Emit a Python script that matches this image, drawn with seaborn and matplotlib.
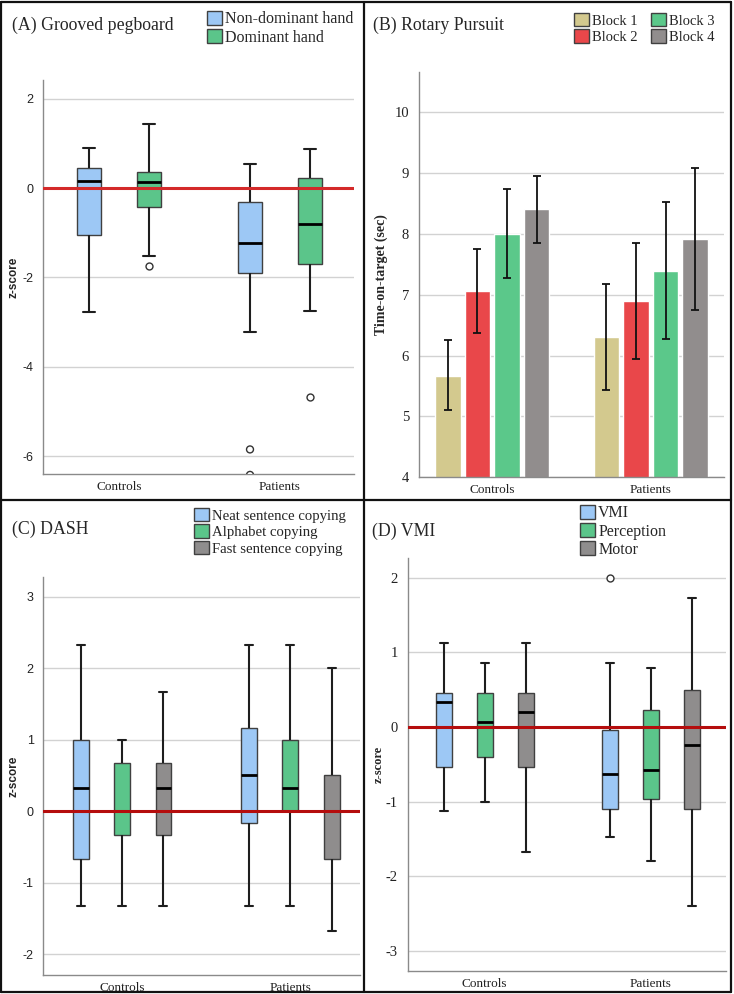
import numpy as np
import pandas as pd
import seaborn as sns
import matplotlib.pyplot as plt
from matplotlib.patches import Patch
from matplotlib.lines import Line2D

groups = ["Controls", "Patients"]

# (A) Grooved pegboard -- box summaries: [lower whisker, Q1, median, Q3, upper whisker]
peg_hands = ["Non-dominant hand", "Dominant hand"]
peg_controls_nondominant = [-2.77, -1.06, 0.17, 0.46, 0.90]
peg_controls_dominant = [-1.52, -0.42, 0.13, 0.37, 1.43]
peg_patients_nondominant = [-3.22, -1.90, -1.22, -0.31, 0.55]
peg_patients_dominant = [-2.75, -1.70, -0.81, 0.22, 0.87]
peg_outlier_group = ["Controls", "Patients", "Patients", "Patients"]
peg_outlier_hand = ["Dominant hand", "Non-dominant hand", "Non-dominant hand", "Dominant hand"]
peg_outlier_value = [-1.74, -5.85, -6.42, -4.67]

# (B) Rotary pursuit -- mean time on target and error bar ends
blocks = ["Block 1", "Block 2", "Block 3", "Block 4"]
rp_controls_mean = [5.67, 7.06, 8.00, 8.41]
rp_controls_low = [5.10, 6.37, 7.27, 7.85]
rp_controls_high = [6.25, 7.76, 8.74, 8.96]
rp_patients_mean = [6.30, 6.90, 7.39, 7.92]
rp_patients_low = [5.43, 5.94, 6.27, 6.75]
rp_patients_high = [7.18, 7.86, 8.53, 9.09]

# (C) DASH
dash_tasks = ["Neat sentence copying", "Alphabet copying", "Fast sentence copying"]
dash_controls_neat = [-1.33, -0.67, 0.33, 1.00, 2.33]
dash_controls_alphabet = [-1.33, -0.33, 0.00, 0.67, 1.00]
dash_controls_fast = [-1.33, -0.33, 0.33, 0.67, 1.67]
dash_patients_neat = [-1.33, -0.17, 0.50, 1.17, 2.33]
dash_patients_alphabet = [-1.33, 0.00, 0.33, 1.00, 2.33]
dash_patients_fast = [-1.67, -0.67, 0.00, 0.50, 2.00]

# (D) VMI
vmi_tests = ["VMI", "Perception", "Motor"]
vmi_controls_vmi = [-1.13, -0.54, 0.33, 0.46, 1.13]
vmi_controls_perception = [-1.00, -0.40, 0.06, 0.46, 0.86]
vmi_controls_motor = [-1.67, -0.54, 0.20, 0.46, 1.13]
vmi_patients_vmi = [-1.47, -1.10, -0.63, -0.04, 0.86]
vmi_patients_perception = [-1.80, -0.97, -0.57, 0.23, 0.79]
vmi_patients_motor = [-2.40, -1.10, -0.24, 0.50, 1.73]
vmi_outlier_group = ["Patients"]
vmi_outlier_test = ["VMI"]
vmi_outlier_value = [2.00]

BLUE, GREEN, GREY = "#9dc8f5", "#5bc58a", "#8f8d8d"
block_colors = ["#d3c98e", "#e9474a", "#5bc88a", "#918d8d"]
RED_A = "#d42a2a"
RED_CD = "#b50d0d"
SERIF = "Liberation Serif"
SANS = "Liberation Sans"

sns.set_style("white")
plt.rcParams["font.family"] = [SERIF, "DejaVu Serif"]

W, H = 734, 994
fig = plt.figure(figsize=(W / 100, H / 100), dpi=100)


def rect(l, t, r, b):
    return [l / W, 1 - b / H, (r - l) / W, (b - t) / H]


def long_table(cells):
    rows = [(g, lvl, v) for g, lvl, vals in cells for v in vals]
    return pd.DataFrame(rows, columns=["group", "level", "value"])


def draw_boxes(ax, cells, levels, colors, width, gap, out_group, out_level, out_value, red):
    df = long_table(cells)
    sns.boxplot(data=df, x="group", y="value", hue="level", order=groups, hue_order=levels,
                palette=colors, saturation=1, width=width, gap=gap, whis=(0, 100),
                linecolor="#404040", linewidth=1.0,
                medianprops=dict(color="black", linewidth=2.0),
                whiskerprops=dict(color="#1e1e1e", linewidth=1.5),
                capprops=dict(color="#1e1e1e", linewidth=1.5),
                legend=False, ax=ax)
    if out_value:
        n = len(ax.collections)
        odf = pd.DataFrame({"group": out_group, "level": out_level, "value": out_value})
        sns.stripplot(data=odf, x="group", y="value", hue="level", order=groups, hue_order=levels,
                      palette={lvl: "white" for lvl in levels}, dodge=True, jitter=False, size=5,
                      edgecolor="#333333", linewidth=1, legend=False, ax=ax, zorder=3)
        # stripplot dodges across 0.8 of the slot; pull points onto the narrower box layout
        for coll in ax.collections[n:]:
            xy = np.asarray(coll.get_offsets()).copy()
            if len(xy):
                c = np.round(xy[:, 0])
                xy[:, 0] = c + (xy[:, 0] - c) * width / 0.8
                coll.set_offsets(xy)
    ax.axhline(0, color=red, lw=2.2, zorder=5)


def style_axes(ax, ylim, yticks, xlim, tick_family, tick_size, ylabel, label_family, label_size, label_x):
    ax.set_xlim(xlim)
    ax.set_ylim(ylim)
    ax.set_yticks(yticks)
    ax.set_yticklabels([str(t) for t in yticks], family=tick_family, fontsize=tick_size, color="#222222")
    ax.set_xticks(range(len(groups)))
    ax.set_xticklabels(groups, family=SERIF, fontsize=9.5, color="#222222")
    ax.set_axisbelow(True)
    ax.grid(axis="y", color="#d2d2d2", lw=1)
    ax.grid(axis="x", visible=False)
    for s in ["top", "right"]:
        ax.spines[s].set_visible(False)
    for s in ["left", "bottom"]:
        ax.spines[s].set_color("#8a8a8a")
        ax.spines[s].set_linewidth(1)
    ax.tick_params(length=0, axis="y", pad=7)
    ax.tick_params(length=0, axis="x", pad=5)
    ax.set_xlabel("")
    ax.set_ylabel(ylabel, family=label_family, fontsize=label_size, fontweight="bold")
    ax.yaxis.set_label_coords(label_x, 0.5)


def legend(ax, labels, colors, x, y, size, ncol=1, colsp=0.5):
    handles = [Patch(facecolor=c, edgecolor="#404040", lw=1) for c in colors]
    ax.legend(handles, labels, loc="upper left", bbox_to_anchor=(x / W, 1 - y / H),
              bbox_transform=fig.transFigure, frameon=False, ncol=ncol, borderpad=0,
              borderaxespad=0, handlelength=15 / (size * 1.389), handleheight=15 / (size * 1.389),
              handletextpad=0.2, labelspacing=0.12, columnspacing=colsp,
              prop=dict(family=SERIF, size=size))


# (A) Grooved pegboard
axA = fig.add_axes(rect(43.3, 80, 354, 474))
draw_boxes(axA,
           [("Controls", peg_hands[0], peg_controls_nondominant),
            ("Controls", peg_hands[1], peg_controls_dominant),
            ("Patients", peg_hands[0], peg_patients_nondominant),
            ("Patients", peg_hands[1], peg_patients_dominant)],
           peg_hands, [BLUE, GREEN], 0.744, 0.6,
           peg_outlier_group, peg_outlier_hand, peg_outlier_value, RED_A)
style_axes(axA, (-6.4, 2.42), [-6, -4, -2, 0, 2], (-0.47, 1.46), SANS, 9, "z-score", SANS, 8.5, -0.075)
legend(axA, peg_hands, [BLUE, GREEN], 207, 11, 11.5)
fig.text(12 / W, 1 - 25 / H, "(A) Grooved pegboard", family=SERIF, fontsize=12.8, va="center")

# (B) Rotary pursuit
axB = fig.add_axes(rect(418.7, 71.7, 723.7, 477.3))
rp = pd.DataFrame({
    "group": [g for g in groups for _ in blocks],
    "block": blocks * 2,
    "mean": rp_controls_mean + rp_patients_mean,
    "low": rp_controls_low + rp_patients_low,
    "high": rp_controls_high + rp_patients_high,
})
sns.barplot(data=rp, x="group", y="mean", hue="block", order=groups, hue_order=blocks,
            palette=block_colors, width=0.745, gap=0.14, errorbar=None, legend=False,
            saturation=1, ax=axB)
for cont, block in zip(axB.containers, blocks):
    sub = rp[rp["block"] == block].set_index("group").loc[groups]
    xs = [bar.get_x() + bar.get_width() / 2 for bar in cont]
    axB.errorbar(xs, sub["mean"], yerr=[sub["mean"] - sub["low"], sub["high"] - sub["mean"]],
                 fmt="none", ecolor="#111111", elinewidth=1.3, capsize=3, capthick=1.3, zorder=4)
style_axes(axB, (4, 10.67), [4, 5, 6, 7, 8, 9, 10], (-0.464, 1.46), SERIF, 10.5,
           "Time-on-target (sec)", SERIF, 10, -0.10)
legend(axB, blocks, block_colors, 574, 13, 10.5, ncol=2, colsp=0.95)
fig.text(373 / W, 1 - 25 / H, "(B) Rotary Pursuit", family=SERIF, fontsize=12.8, va="center")

# (C) DASH
axC = fig.add_axes(rect(43.3, 577.3, 360, 975))
draw_boxes(axC,
           [("Controls", dash_tasks[0], dash_controls_neat),
            ("Controls", dash_tasks[1], dash_controls_alphabet),
            ("Controls", dash_tasks[2], dash_controls_fast),
            ("Patients", dash_tasks[0], dash_patients_neat),
            ("Patients", dash_tasks[1], dash_patients_alphabet),
            ("Patients", dash_tasks[2], dash_patients_fast)],
           dash_tasks, [BLUE, GREEN, GREY], 0.737, 0.62, [], [], [], RED_CD)
style_axes(axC, (-2.29, 3.27), [-2, -1, 0, 1, 2, 3], (-0.468, 1.414), SANS, 9, "z-score", SANS, 8.5, -0.074)
legend(axC, dash_tasks, [BLUE, GREEN, GREY], 194, 508, 10.6)
fig.text(12 / W, 1 - 529 / H, "(C) DASH", family=SERIF, fontsize=12.8, va="center")

# (D) VMI
axD = fig.add_axes(rect(407.7, 558.3, 726.3, 971))
draw_boxes(axD,
           [("Controls", vmi_tests[0], vmi_controls_vmi),
            ("Controls", vmi_tests[1], vmi_controls_perception),
            ("Controls", vmi_tests[2], vmi_controls_motor),
            ("Patients", vmi_tests[0], vmi_patients_vmi),
            ("Patients", vmi_tests[1], vmi_patients_perception),
            ("Patients", vmi_tests[2], vmi_patients_motor)],
           vmi_tests, [BLUE, GREEN, GREY], 0.741, 0.6,
           vmi_outlier_group, vmi_outlier_test, vmi_outlier_value, RED_CD)
style_axes(axD, (-3.27, 2.26), [-3, -2, -1, 0, 1, 2], (-0.464, 1.455), SERIF, 10.5, "z-score", SERIF, 9, -0.071)
legend(axD, vmi_tests, [BLUE, GREEN, GREY], 580, 505, 11.5)
fig.text(372 / W, 1 - 531.7 / H, "(D) VMI", family=SERIF, fontsize=12.8, va="center")

# panel frames
frame = dict(color="#111111", lw=1.6, transform=fig.transFigure)
for x0, y0, x1, y1 in [(1.5, 1.5, 731, 1.5), (1.5, 992, 731, 992), (1.5, 1.5, 1.5, 992),
                       (731, 1.5, 731, 992), (363.5, 1.5, 363.5, 992), (1.5, 500, 731, 500)]:
    fig.add_artist(Line2D([x0 / W, x1 / W], [1 - y0 / H, 1 - y1 / H], **frame))

plt.savefig("out.png", dpi=100)
